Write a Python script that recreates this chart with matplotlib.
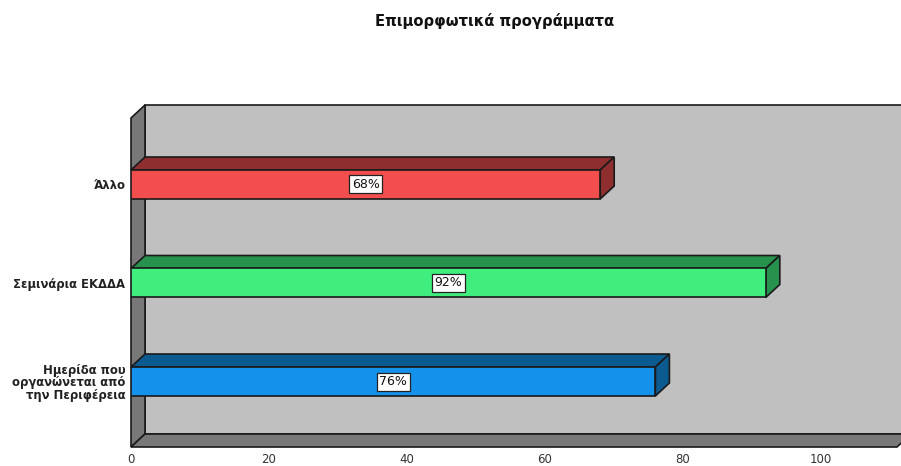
import matplotlib
matplotlib.use("Agg")
import matplotlib.pyplot as plt
from matplotlib.patches import Polygon

categories = ["Ημερίδα που\nοργανώνεται από\nτην Περιφέρεια", "Σεμινάρια ΕΚΔΔΑ", "Άλλο"]
values = [76, 92, 68]
value_labels = ["76%", "92%", "68%"]
front_colors = ["#1491ea", "#40ee7e", "#f24e4e"]
dark_colors = ["#0b5a90", "#27924e", "#8e2e2e"]
xticks = [0, 20, 40, 60, 80, 100]

W, H = 901, 466
fig = plt.figure(figsize=(W / 100, H / 100), dpi=100)
ax = fig.add_axes([131 / W, 1 - 447 / H, 766 / W, 329 / H])

xmax = 766 / 6.9
ymin, ymax = -65.5 / 98.5, 263.5 / 98.5
ax.set_xlim(0, xmax)
ax.set_ylim(ymin, ymax)
ax.patch.set_visible(False)

# depth of the fake 3d, in data units
dx = 14 / 6.9
dy = 13 / 98.5
edge = "#1a1a1a"


def poly(verts, color, z):
    p = Polygon(verts, closed=True, facecolor=color, edgecolor=edge, linewidth=1.2,
                joinstyle="miter", clip_on=False, zorder=z)
    ax.add_patch(p)


# walls
poly([(dx, ymin + dy), (xmax + dx, ymin + dy), (xmax + dx, ymax + dy), (dx, ymax + dy)], "#c0c0c0", 1)
poly([(0, ymin), (dx, ymin + dy), (dx, ymax + dy), (0, ymax)], "#787878", 2)
poly([(0, ymin), (xmax, ymin), (xmax + dx, ymin + dy), (dx, ymin + dy)], "#787878", 2)

# bars
bar_h = 29 / 98.5
for i, v in enumerate(values):
    ax.barh(i, v, height=bar_h, color=front_colors[i], edgecolor=edge, linewidth=1.2, zorder=4)
    top = i + bar_h / 2
    bot = i - bar_h / 2
    poly([(0, top), (v, top), (v + dx, top + dy), (dx, top + dy)], dark_colors[i], 3)
    poly([(v, bot), (v + dx, bot + dy), (v + dx, top + dy), (v, top)], dark_colors[i], 3)
    ax.text(v / 2, i, value_labels[i], ha="center", va="center", fontsize=9, color="#111111",
            zorder=6, bbox=dict(boxstyle="square,pad=0.2", facecolor="white", edgecolor="#222222", linewidth=0.9))

for s in ax.spines.values():
    s.set_visible(False)

ax.set_xticks(xticks)
ax.set_yticks(range(len(categories)))
ax.set_yticklabels(categories, fontsize=8.4, fontweight="bold", color="#222222", linespacing=0.96)
ax.tick_params(axis="y", length=0, pad=4)
ax.tick_params(axis="x", length=0, pad=4.5, labelsize=8.5, labelcolor="#333333")

fig.text(495 / W, 1 - 21 / H, "Επιμορφωτικά προγράμματα", ha="center", va="center",
         fontsize=10.6, fontweight="bold", color="#111111")

fig.savefig("out.png", dpi=100)
